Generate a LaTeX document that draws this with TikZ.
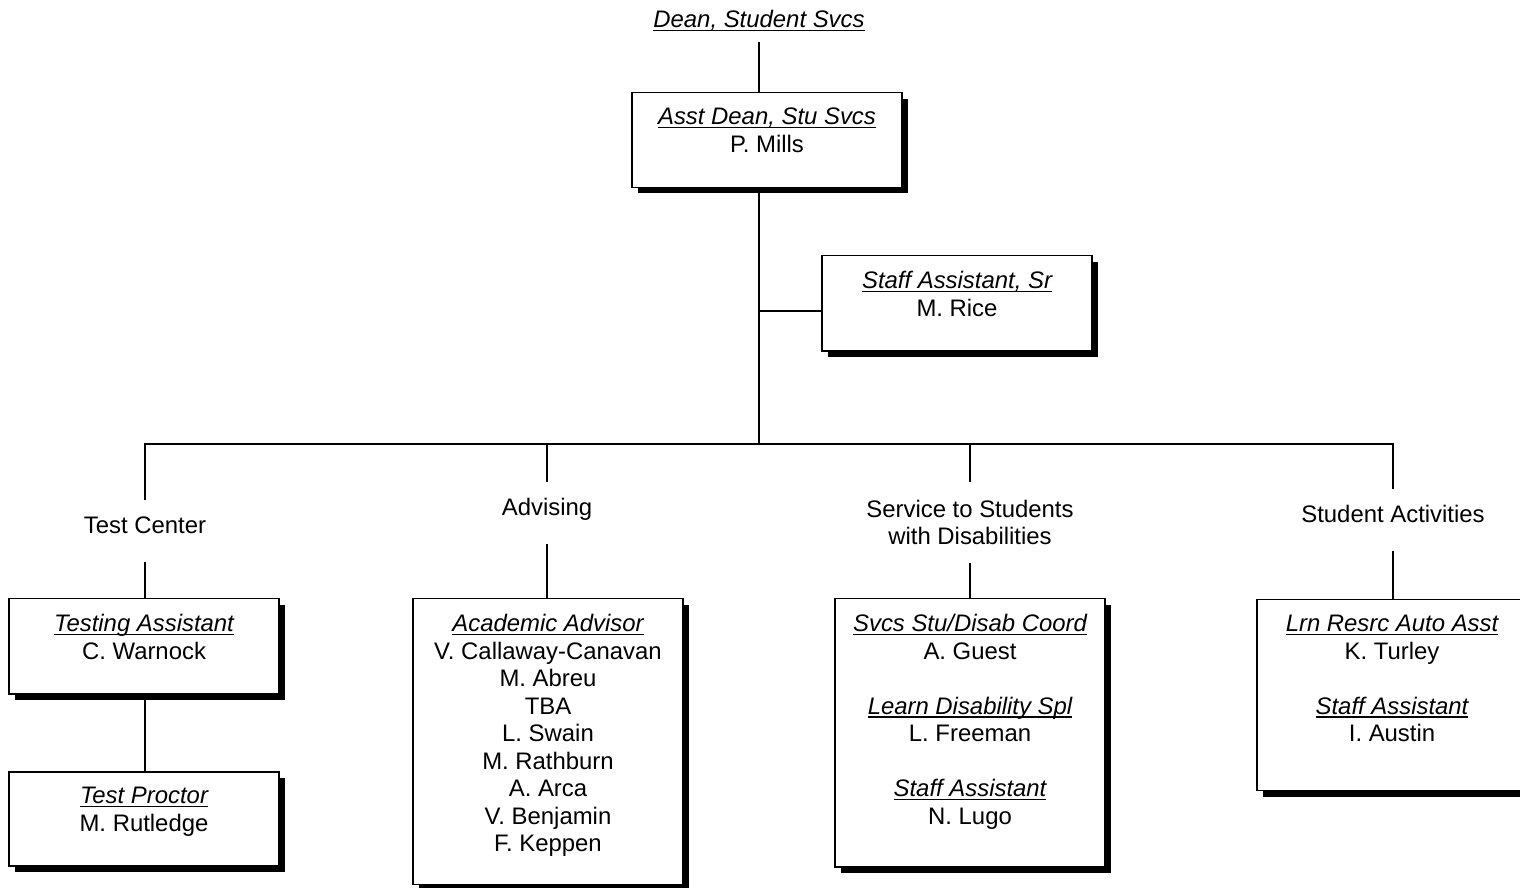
\documentclass[tikz,border=0pt]{standalone}
\usepackage{fontspec}
\setmainfont{Liberation Sans}
\usetikzlibrary{shadows}
\newcommand{\jobtitle}[1]{\setbox0=\hbox{\itshape #1}\rlap{\rule[-2pt]{\wd0}{0.75pt}}\box0}

\begin{document}
\begin{tikzpicture}[x=0.02cm, y=-0.02cm, line width=1.1pt,
  font=\fontsize{13.6}{15.65}\selectfont,
  box/.style={draw, line width=0.85pt, fill=white, minimum width=5.4cm, inner xsep=0.1cm, inner ysep=0.31cm, align=center, anchor=north,
    general shadow={fill=black, shadow xshift=0.12cm, shadow yshift=-0.12cm}},
  lab/.style={anchor=north, align=center, inner ysep=0, text height=0.66cm, text depth=0.54cm}]
  \useasboundingbox (0,0) rectangle (1520,888);

  % top of the chart
  \node[anchor=south, inner ysep=0.2cm] (dean) at (759,42) {\jobtitle{Dean, Student Svcs}};
  \node[box, text depth=0.39cm] (asst) at (767,92) {\jobtitle{Asst Dean, Stu Svcs}\\P. Mills};
  \node[box, text depth=0.39cm] (staff) at (957,255) {\jobtitle{Staff Assistant, Sr}\\M. Rice};
  \coordinate (tee) at (759,311);
  \coordinate (hub) at (759,444);

  % units
  \node[lab] (testc) at (145,500) {Test Center};
  \node[lab] (advis) at (547,482) {Advising};
  \node[anchor=north, align=center, inner ysep=0.34cm] (ssd) at (970,482) {Service to Students\\with Disabilities};
  \node[lab] (activ) at (1393,489) {Student Activities};

  % staff boxes
  \node[box, text depth=0.39cm] (testing) at (144,598) {\jobtitle{Testing Assistant}\\C. Warnock};
  \node[box, text depth=0.39cm] (proctor) at (144,771) {\jobtitle{Test Proctor}\\M. Rutledge};
  \node[box, text depth=0.35cm] (advisor) at (548,598) {\jobtitle{Academic Advisor}\\V. Callaway-Canavan\\M. Abreu\\TBA\\L. Swain\\M. Rathburn\\A. Arca\\V. Benjamin\\F. Keppen};
  \node[box, text depth=0.55cm] (svcs) at (970,598) {\jobtitle{Svcs Stu/Disab Coord}\\A. Guest\\[15.65pt]\jobtitle{Learn Disability Spl}\\L. Freeman\\[15.65pt]\jobtitle{Staff Assistant}\\N. Lugo};
  \node[box, text depth=0.67cm] (lrn) at (1392,599) {\jobtitle{Lrn Resrc Auto Asst}\\K. Turley\\[15.65pt]\jobtitle{Staff Assistant}\\I. Austin};

  % connectors
  \draw (dean.south) -- (dean.south |- asst.north);
  \draw (dean.south |- asst.south) -- (hub);
  \draw (tee) -- (tee -| staff.west);
  \draw[line cap=rect] (testc.north |- hub) -- (activ.north |- hub);
  \foreach \u in {testc, advis, ssd, activ} \draw (\u.north |- hub) -- (\u.north);
  \foreach \u/\b in {testc/testing, advis/advisor, ssd/svcs, activ/lrn} \draw (\u.south) -- (\u.south |- \b.north);
  \draw (testc.south |- testing.south) -- (testc.south |- proctor.north);
\end{tikzpicture}
\end{document}
